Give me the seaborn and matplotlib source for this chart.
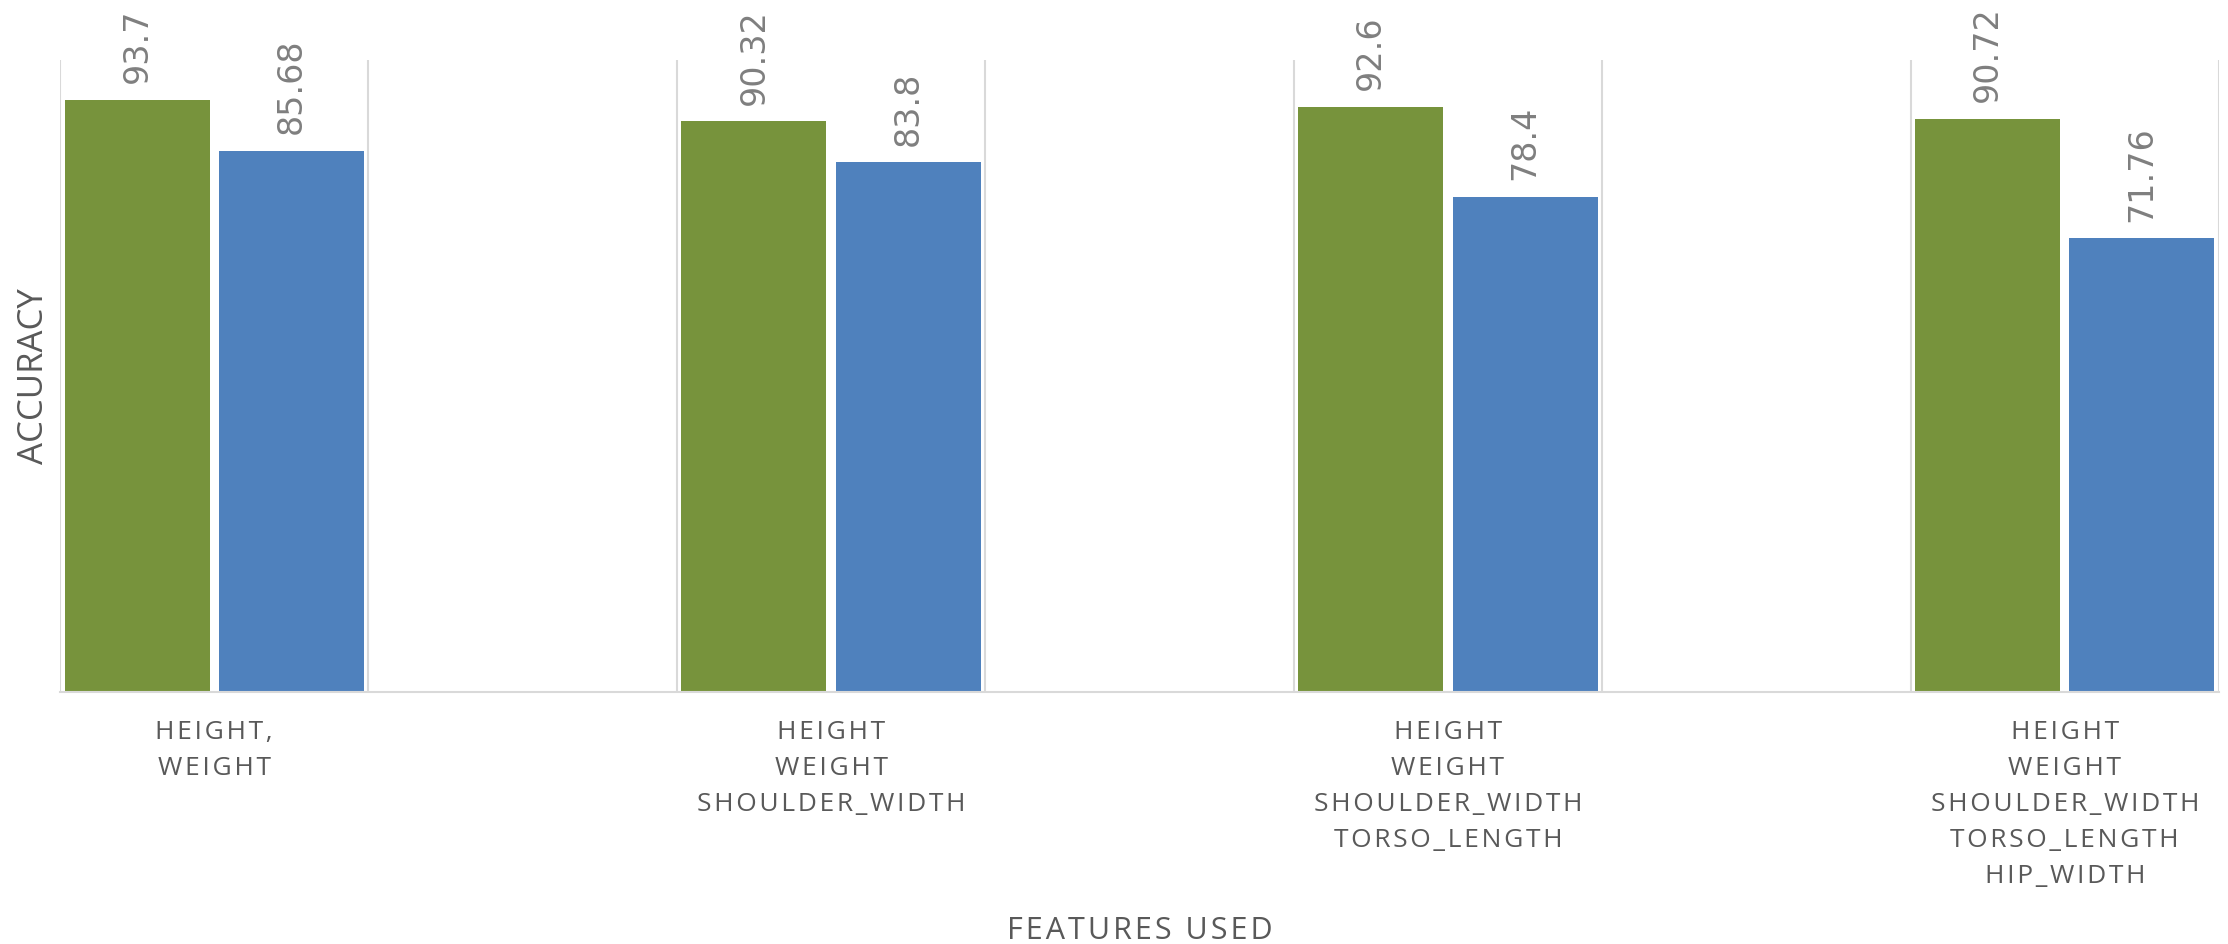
import numpy as np
import pandas as pd
import seaborn as sns
import matplotlib
matplotlib.use("Agg")
import matplotlib.pyplot as plt

# ---- data -------------------------------------------------------------
feature_sets = [
    "HEIGHT,\nWEIGHT",
    "HEIGHT\nWEIGHT\nSHOULDER_WIDTH",
    "HEIGHT\nWEIGHT\nSHOULDER_WIDTH\nTORSO_LENGTH",
    "HEIGHT\nWEIGHT\nSHOULDER_WIDTH\nTORSO_LENGTH\nHIP_WIDTH",
]
series_names = ["Series 1", "Series 2"]
accuracy_series1 = [93.7, 90.32, 92.6, 90.72]
accuracy_series2 = [85.68, 83.8, 78.4, 71.76]

x_title = "FEATURES USED"
y_title = "ACCURACY"

# ---- styling ----------------------------------------------------------
GREEN = "#77933C"
BLUE = "#4F81BD"
GRID = "#D9D9D9"
TEXT = "#595959"
VALUE = "#7F7F7F"

sns.set_theme(style="white")
plt.rcParams["font.family"] = ["Open Sans", "DejaVu Sans"]

df = pd.DataFrame({
    "features": feature_sets * 2,
    "accuracy": accuracy_series1 + accuracy_series2,
    "series": [series_names[0]] * len(feature_sets) + [series_names[1]] * len(feature_sets),
})

# empty slots between the feature groups
slot_order = []
for i, f in enumerate(feature_sets):
    slot_order.append(f)
    if i < len(feature_sets) - 1:
        slot_order.append("gap%d" % i)

fig = plt.figure(figsize=(22.28, 9.44), dpi=100)
ax = fig.add_axes([60 / 2228, 252 / 944, (2219 - 60) / 2228, (692 - 60) / 944])

sns.barplot(
    data=df, x="features", y="accuracy", hue="series",
    order=slot_order, hue_order=series_names,
    palette=[GREEN, BLUE], saturation=1, width=1.0, gap=0.06,
    linewidth=0, legend=False, ax=ax,
)

ax.set_ylim(0, 100)
ax.set_xlim(-0.5, len(slot_order) - 0.5)


def spaced(label):
    """Widen letter spacing with hair spaces between characters."""
    return "\n".join("\u200a".join(line) for line in label.split("\n"))


ax.set_xticks(range(len(slot_order)))
ax.set_xticklabels(
    [spaced(s) if s in feature_sets else "" for s in slot_order],
    fontsize=19, color=TEXT, linespacing=1.58,
)
ax.tick_params(axis="x", length=0, pad=20)
ax.set_yticks([])

# vertical separators between category slots
ax.set_xticks(np.arange(-0.5, len(slot_order)), minor=True)
ax.tick_params(axis="x", which="minor", length=0)
ax.grid(which="minor", axis="x", color=GRID, linewidth=1.5)
ax.grid(which="major", visible=False)
ax.set_axisbelow(True)

for side in ("top", "right", "left"):
    ax.spines[side].set_visible(False)
ax.spines["bottom"].set_color(GRID)
ax.spines["bottom"].set_linewidth(1.5)

# value labels above each bar
for cont, vals in zip(ax.containers, [accuracy_series1, accuracy_series2]):
    ax.bar_label(cont, labels=[f"{v:g}" for v in vals], rotation=90,
                 padding=12, color=VALUE, fontsize=24, family="DejaVu Sans")

ax.set_xlabel(spaced(x_title), fontsize=22, color=TEXT)
ax.xaxis.set_label_coords(0.5, -0.355)
ax.set_ylabel(y_title, fontsize=25, color=TEXT)
ax.yaxis.set_label_coords(-0.004, 0.5)

fig.savefig("out.png", dpi=100, facecolor="white")
